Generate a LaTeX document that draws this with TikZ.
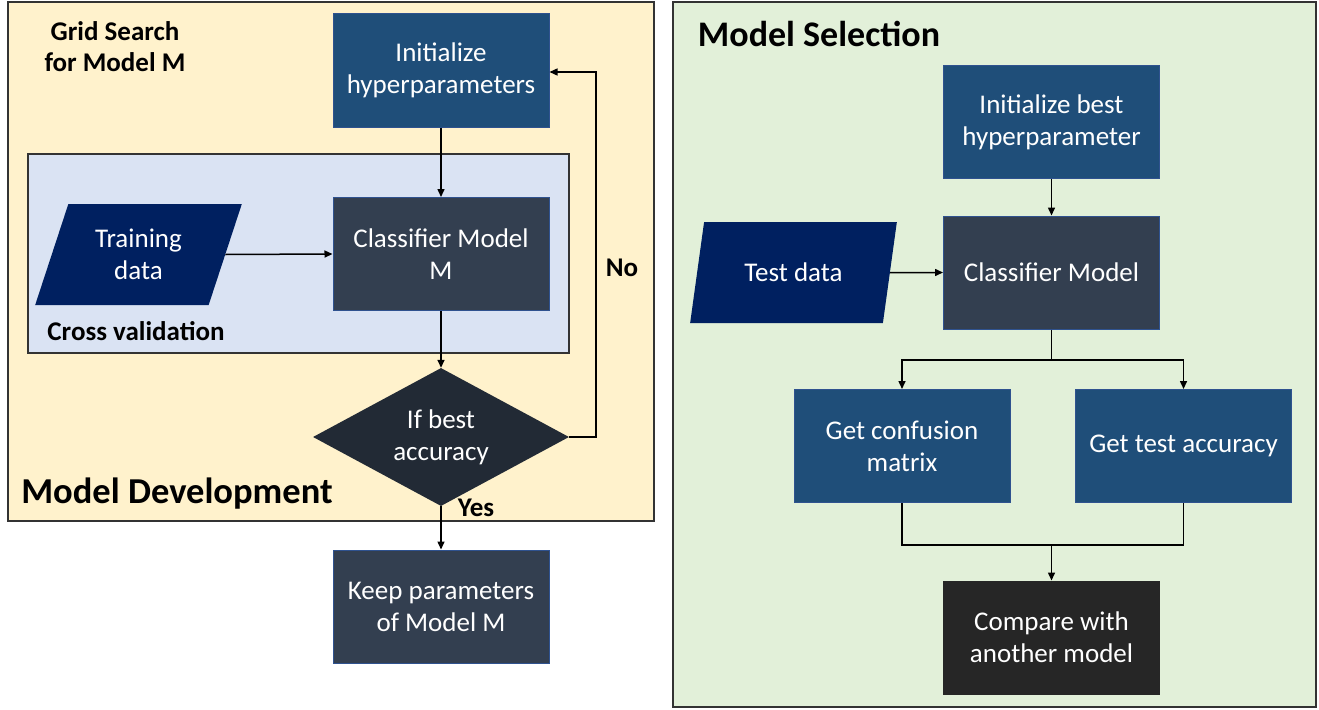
\documentclass[tikz,border=0pt]{standalone}
\usepackage{fontspec}
\setmainfont{Carlito}
\usetikzlibrary{arrows.meta,shapes.geometric}
\definecolor{cream}{HTML}{FFF2CC}
\definecolor{lblue}{HTML}{DAE3F3}
\definecolor{lgreen}{HTML}{E2F0D9}
\definecolor{bluebox}{HTML}{1F4E79}
\definecolor{slatebox}{HTML}{333F50}
\definecolor{navybox}{HTML}{002060}
\definecolor{diabox}{HTML}{222A35}
\definecolor{darkbox}{HTML}{262626}
\definecolor{edgec}{HTML}{2F528F}
\begin{document}
\begin{tikzpicture}[x=1pt,y=-1pt,
  panel/.style={draw=black!80,line width=1.5pt},
  proc/.style={draw=edgec,line width=1pt,minimum width=216pt,minimum height=113pt,
    text=white,align=center,font=\fontsize{27}{32}\selectfont,inner sep=0pt},
  datas/.style={trapezium,trapezium left angle=68,trapezium right angle=112,
    fill=navybox,text=white,align=center,font=\fontsize{27}{32}\selectfont,
    minimum width=207pt,minimum height=101pt,inner sep=0pt,trapezium stretches=true},
  title/.style={font=\bfseries\fontsize{27}{31}\selectfont,align=center,inner sep=0pt},
  conn/.style={line width=1.5pt,-{Triangle[length=8pt,width=7pt]}},
  plain/.style={line width=1.5pt}]
\useasboundingbox (0,0) rectangle (1319,709);
\fill[white] (0,0) rectangle (1319,709);
% panels
\draw[panel,fill=cream] (8,2) rectangle (654,521);
\draw[panel,fill=lblue] (28,154) rectangle (569,353);
\draw[panel,fill=lgreen] (673,2) rectangle (1316,707);
% left labels
\node[title] (gs) at (115,47) {Grid Search\\for Model M};
\node[title] (cv) at (136,331) {Cross validation};
\node[title,font=\bfseries\fontsize{36.5}{40}\selectfont] (md) at (177,494) {Model Development};
\node[title] (no) at (622,268) {No};
\node[title] (yes) at (476,508) {Yes};
% left nodes
\node[proc,fill=bluebox] (init) at (441,70.5) {Initialize\\hyperparameters};
\node[proc,fill=slatebox] (clf) at (441,254) {Classifier Model\\M};
\node[datas] (train) at (138.5,254.5) {Training\\data};
\node[diamond,aspect=1.855,fill=diabox,minimum width=256pt,minimum height=138pt,inner sep=0pt,
  text=white,align=center,font=\fontsize{27}{32}\selectfont] (dia) at (441,437) {If best\\accuracy};
\node[proc,fill=slatebox] (keep) at (441,606.5) {Keep parameters\\of Model M};
\draw[conn] (init) -- (clf);
\draw[conn] (train.east) -- (clf.west);
\draw[conn] (clf) -- (dia.north);
\draw[conn] (dia.east) -- (596,437) -- (596,72) -- (init.east |- 0,72);
\draw[conn] (dia.south) -- (keep);
% right panel
\node[title,font=\bfseries\fontsize{36}{40}\selectfont] (ms) at (819,34) {Model Selection};
\node[proc,fill=bluebox] (binit) at (1051.5,122) {Initialize best\\hyperparameter};
\node[proc,fill=slatebox] (bclf) at (1051.5,272.5) {Classifier Model};
\node[datas] (test) at (793.5,272.5) {Test data};
\node[proc,fill=bluebox] (conf) at (902,446) {Get confusion\\matrix};
\node[proc,fill=bluebox] (acc) at (1183.5,446) {Get test accuracy};
\node[proc,fill=darkbox,draw=darkbox] (cmp) at (1051.5,637.5) {Compare with\\another model};
\coordinate (split) at (1051.5,360);
\coordinate (merge) at (1051.5,545);
\draw[conn] (binit) -- (bclf);
\draw[conn] (test.east) -- (bclf.west);
\draw[plain] (bclf.south) -- (split);
\draw[conn] (split) -| (conf.north);
\draw[conn] (split) -| (acc.north);
\draw[plain] (conf.south) |- (merge) -| (acc.south);
\draw[conn] (merge) -- (cmp.north);
\end{tikzpicture}
\end{document}
